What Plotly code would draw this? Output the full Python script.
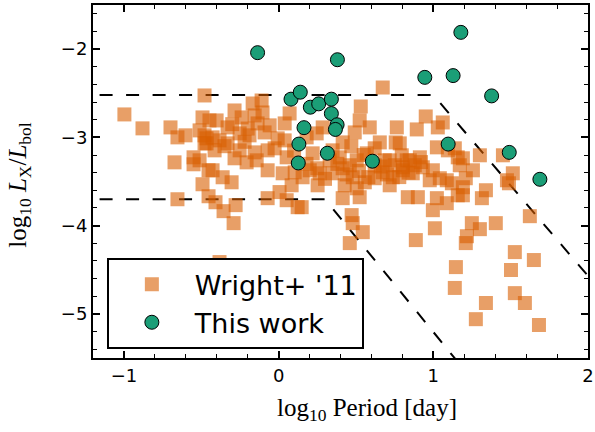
import plotly.graph_objects as go

# Wright+ '11 sample: log10 Period [day], log10 Lx/Lbol
wright_logP = [
    -0.997, -0.880, -0.699, -0.654, -0.602, -0.673, -0.550, -0.550, -0.654, -0.479,
    -0.492, -0.511, -0.466, -0.479, -0.492, -0.453, -0.362, -0.304, -0.453, -0.408,
    -0.356, -0.278, -0.291, -0.382,
    -0.285, -0.168, -0.110, -0.239, -0.447, -0.401, -0.330, -0.155, -0.104, -0.058,
    -0.136, 0.039, 0.071, -0.252, -0.479, -0.427, -0.382, -0.330, -0.188, -0.091,
    -0.006, -0.466, -0.252, -0.155, -0.071, 0.052, -0.207, -0.142, -0.285, -0.414,
    -0.511, -0.427, -0.071, 0.026, 0.104, 0.155, -0.071, 0.006, 0.052, 0.123, -0.026,
    0.673, 0.531, 0.524, 0.589, 0.764, 0.757, 0.492, 0.285, 0.246, 0.414,
    0.654, 0.621, 0.796, 0.828, 0.181, 0.220, 0.201, 0.265, 0.252, 0.349,
    0.414, 0.479, 0.557, 0.505, 0.524, 0.414, 0.673, 0.738, 0.803, 0.835,
    0.149, 0.472, 0.479, 0.544, 0.460, 0.395, 0.505, 0.718, 0.349, 0.570, 0.887,
    0.951, 0.893, 1.061, 1.029, 0.783, 1.023, 1.139, 1.158, 1.191, 1.171,
    1.301, 1.256, 1.210, 1.094, 0.913, 0.848, 0.803, 0.867, 0.932, 0.997,
    0.977, 1.042, 1.087, 1.120, 1.191, 1.158, 1.087, 0.997, 0.900, 1.023,
    1.340, 1.314, 1.450, 1.476, 1.010, 1.249, 1.404, 1.301,
    1.489, 1.624, 1.217, 1.210, 1.191, 1.527, 1.650, 1.502, 1.146, 1.139,
    1.527, 1.592, 1.340, 1.275, 1.683, 1.514,
    0.039, 0.084, 0.330, 0.460, 0.621, 0.686, 0.751, 0.880, 0.427, 0.621, 0.718,
    0.10, 0.18, 0.25, 0.30, 0.38, 0.44, 0.52, 0.58, 0.66, 0.70,
    0.78, 0.84, 0.92, 0.55, 0.47, -0.35, -0.22, -0.30, -0.20,
]
wright_logLx = [
    -2.740, -2.898, -2.887, -3.000, -2.977, -3.283, -3.226, -3.305, -3.701, -2.525,
    -2.774, -2.921, -3.011, -3.068, -3.531, -3.373, -3.452, -3.509, -3.667, -3.735,
    -3.836, -3.768, -3.972, -4.413,
    -2.695, -2.616, -2.582, -2.774, -2.808, -2.808, -2.887, -2.751, -2.718, -2.864,
    -2.842, -2.842, -2.729, -2.955, -2.977, -3.000, -3.034, -3.068, -2.977, -2.944,
    -3.011, -3.068, -3.147, -3.170, -3.147, -3.226, -3.283, -3.260, -3.237, -3.147,
    -3.260, -3.373, -3.373, -3.407, -3.396, -3.452, -3.689, -3.620, -3.712, -3.791, -3.124,
    -2.435, -2.650, -2.808, -2.887, -2.887, -3.057, -2.944, -2.887, -2.955, -3.057,
    -3.057, -3.124, -3.203, -3.260, -3.000, -3.181, -3.373, -3.407, -3.543, -3.407,
    -3.350, -3.452, -3.509, -3.577, -3.678, -3.689, -3.396, -3.452, -3.373, -3.678,
    -3.791, -3.881, -3.972, -4.074, -4.198, -3.226, -3.260, -3.260, -3.147, -3.181, -4.164,
    -2.763, -2.910, -2.831, -2.887, -3.068, -3.113, -3.124, -3.226, -3.237, -3.316,
    -3.203, -3.373, -3.463, -3.147, -3.226, -3.260, -3.339, -3.407, -3.339, -3.373,
    -3.486, -3.463, -3.486, -3.520, -3.565, -3.656, -3.746, -3.825, -3.678, -3.689,
    -3.599, -3.689, -3.203, -3.486, -4.030, -3.972, -3.972, -4.040,
    -3.520, -3.893, -4.120, -4.198, -3.656, -4.300, -4.390, -4.503, -4.470, -4.706,
    -4.765, -4.877, -4.877, -5.060, -5.126, -3.407,
    -3.034, -3.543, -3.260, -3.316, -3.316, -3.260, -3.316, -3.316, -3.543, -3.463, -3.543,
    -3.15, -3.30, -3.35, -3.47, -3.30, -3.42, -3.38, -3.45, -3.33, -3.42,
    -3.45, -3.40, -3.28, -3.20, -3.10, -3.10, -3.05, -2.85, -2.90,
]

# This work
this_logP = [-0.136, 0.380, 1.178, 0.945, 1.128, 1.377, 0.080, 0.140, 0.205, 0.259,
             0.341, 0.341, 0.378, 0.367, 0.164, 0.131, 0.315, 0.127, 0.606, 1.096,
             1.491, 1.689]
this_logLx = [-2.04, -2.12, -1.81, -2.32, -2.30, -2.53, -2.567, -2.488, -2.658, -2.62,
              -2.567, -2.73, -2.857, -2.91, -2.89, -3.076, -3.18, -3.29, -3.27, -3.076,
              -3.17, -3.475]

# dashed boundaries (saturated level, knee, slope)
upper_x = [-1.5, 1.0, 2.2]
upper_y = [-2.52, -2.52, -2.52 - 2.05 * 1.2]
lower_x = [-1.5, 0.3, 1.5]
lower_y = [-3.70, -3.70, -3.70 - 2.15 * 1.2]

fig = go.Figure()
dash_style = dict(color="black", width=2, dash="13px,13.5px")
fig.add_trace(go.Scatter(x=upper_x, y=upper_y, mode="lines", line=dash_style,
                         showlegend=False, hoverinfo="skip"))
fig.add_trace(go.Scatter(x=lower_x, y=lower_y, mode="lines", line=dash_style,
                         showlegend=False, hoverinfo="skip"))
fig.add_trace(go.Scatter(
    x=wright_logP, y=wright_logLx, mode="markers", name="Wright+ '11",
    legendgroup="a",
    marker=dict(symbol="square", size=14, color="#d95f02", opacity=0.6,
                line=dict(width=0)),
))
fig.add_trace(go.Scatter(
    x=this_logP, y=this_logLx, mode="markers", name="This work",
    legendgroup="b",
    marker=dict(symbol="circle", size=14, color="#1b9e77",
                line=dict(color="black", width=1)),
))

axis_common = dict(
    showgrid=False, zeroline=False, showline=True, linecolor="black", linewidth=2,
    mirror="ticks", ticks="inside", ticklen=7, tickwidth=1.5, tickcolor="black",
    tickfont=dict(family="DejaVu Sans", size=18, color="black"),
    minor=dict(ticks="inside", ticklen=4, tickwidth=1, tickcolor="black", dtick=0.2),
    automargin=False,
)
fig.update_xaxes(range=[-1.2, 2.0], tickvals=[-1, 0, 1, 2], **axis_common)
fig.update_yaxes(range=[-5.5, -1.5], tickvals=[-5, -4, -3, -2], **axis_common)

fig.add_annotation(text="log<sub>10</sub> Period [day]", xref="paper", yref="paper",
                   x=0.553, y=-0.147, xanchor="center", yanchor="middle", showarrow=False,
                   font=dict(family="Liberation Serif", size=25, color="black"))
fig.add_annotation(text="log<sub>10</sub> <i>L</i><sub>X</sub>/<i>L</i><sub>bol</sub>",
                   xref="paper", yref="paper", x=-0.15, y=0.49, textangle=-90,
                   xanchor="center", yanchor="middle", showarrow=False,
                   font=dict(family="Liberation Serif", size=25, color="black"))

fig.update_layout(
    width=595, height=432,
    margin=dict(l=93, r=7, t=5, b=74, autoexpand=False),
    plot_bgcolor="white", paper_bgcolor="white",
    legend=dict(x=0.028, y=0.283, xanchor="left", yanchor="top",
                bgcolor="white", bordercolor="black", borderwidth=2,
                font=dict(family="DejaVu Sans", size=27, color="black"),
                traceorder="grouped", tracegroupgap=0, itemwidth=76),
    showlegend=True,
)

fig.write_html("out.html",
               config={"displayModeBar": False},
               post_script="document.body.style.margin='0';document.body.style.overflow='hidden';")
